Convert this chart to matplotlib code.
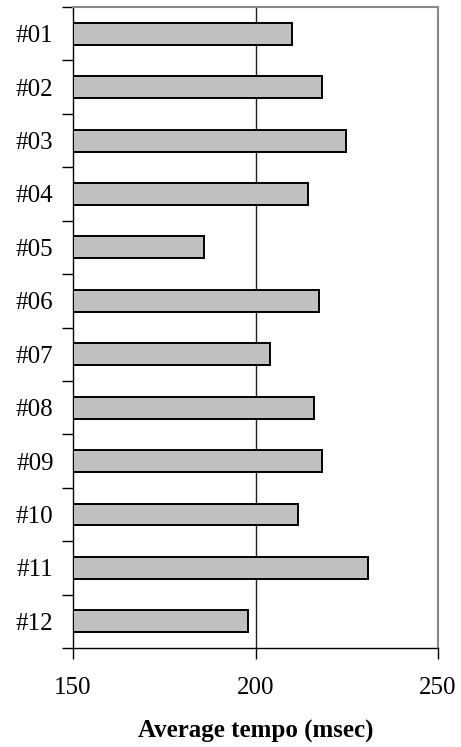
import numpy as np
import matplotlib.pyplot as plt

plt.rcParams['font.family'] = ['Liberation Serif', 'DejaVu Serif']

# average tempo per subject
subjects = ['#01', '#02', '#03', '#04', '#05', '#06',
            '#07', '#08', '#09', '#10', '#11', '#12']
tempo = [209.9, 218.1, 224.7, 214.3, 185.9, 217.5,
         204.0, 216.0, 218.2, 211.6, 230.8, 197.9]
xmin, xmax = 150, 250

fig = plt.figure(figsize=(4.61, 7.47), dpi=100)
ax = fig.add_axes([0.1584, 0.1325, 0.7917, 0.8581])

y = np.arange(len(subjects))
widths = [t - xmin for t in tempo]
ax.barh(y, widths, left=xmin, height=0.41, color='#c0c0c0',
        edgecolor='black', linewidth=1.4, zorder=3)

ax.axvline(200, color='#202020', linewidth=1.0, zorder=1)

ax.set_xlim(xmin, xmax)
ax.set_ylim(len(subjects) - 0.5, -0.5)

ax.set_xticks([150, 200, 250])
ax.tick_params(axis='x', direction='out', length=8, width=1.0,
               labelsize=18, pad=13)

ax.set_yticks(y)
ax.set_yticklabels(subjects)
ax.set_yticks(np.arange(-0.5, len(subjects)), minor=True)
ax.tick_params(axis='y', which='major', length=0, labelsize=18, pad=14)
ax.tick_params(axis='y', which='minor', direction='out', length=8, width=1.0)

for side in ['top', 'right']:
    ax.spines[side].set_color('#888888')
    ax.spines[side].set_linewidth(1.5)
for side in ['left', 'bottom']:
    ax.spines[side].set_color('black')
    ax.spines[side].set_linewidth(1.0)

ax.set_xlabel('Average tempo (msec)', fontsize=18, fontweight='bold',
              labelpad=15)

fig.savefig('out.png', dpi=100)
